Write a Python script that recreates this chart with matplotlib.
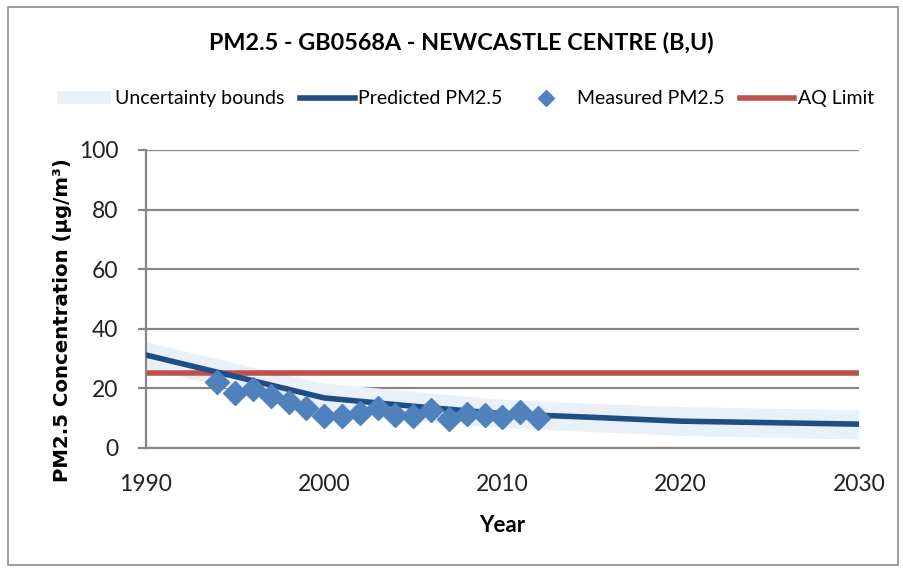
import matplotlib
matplotlib.use('Agg')
from matplotlib import pyplot as plt
from matplotlib.lines import Line2D
from matplotlib.patches import Patch, Rectangle

# predicted curve and uncertainty band
model_years = [1990, 1995, 2000, 2005, 2010, 2015, 2020, 2030]
predicted = [31.2, 24.0, 16.8, 14.0, 11.5, 10.3, 9.0, 8.0]
upper = [35.7, 28.5, 21.8, 19.0, 16.3, 15.0, 13.9, 12.8]
lower = [26.8, 19.5, 12.0, 9.2, 6.8, 5.5, 4.2, 3.0]

# measured annual means
meas_years = list(range(1994, 2013))
measured = [22.2, 18.3, 19.8, 17.6, 15.3, 13.3, 10.8, 10.8, 11.6, 13.5,
            11.1, 10.8, 12.8, 9.7, 11.4, 11.1, 10.3, 12.0, 10.0]

aq_limit = 25
x_ticks = [1990, 2000, 2010, 2020, 2030]
y_ticks = [0, 20, 40, 60, 80, 100]

FONT = 'Lato'
DARK = '#1F4E85'
LIGHT = '#4F81BD'
RED = '#C0504D'
BAND = '#EAF0F8'
GRID = '#878787'


def draw_chart():
    fig = plt.figure(figsize=(9.04, 5.72), dpi=100)
    fig.patches.append(Rectangle((0.009, 0.012), 0.984, 0.975, transform=fig.transFigure,
                                 fill=False, edgecolor='#8c8c8c', linewidth=1.2))
    ax = fig.add_axes([0.1615, 0.2168, 0.7885, 0.521])

    ax.fill_between(model_years, lower, upper, color=BAND, linewidth=0, zorder=1)
    ax.axhline(aq_limit, color=RED, linewidth=4, zorder=2)
    ax.plot(model_years, predicted, color=DARK, linewidth=4, solid_capstyle='round', zorder=3)
    ax.plot(meas_years, measured, linestyle='none', marker='D', markersize=12,
            color=LIGHT, markeredgecolor=LIGHT, zorder=4)

    ax.set_xlim(1990, 2030)
    ax.set_ylim(0, 100)
    ax.set_xticks(x_ticks)
    ax.set_yticks(y_ticks)
    ax.yaxis.grid(True, color=GRID, linewidth=1.6)
    ax.set_axisbelow(True)
    for side in ['top', 'right']:
        ax.spines[side].set_visible(False)
    ax.spines['left'].set_color(GRID)
    ax.spines['left'].set_linewidth(1.6)
    ax.spines['bottom'].set_color(GRID)
    ax.spines['bottom'].set_linewidth(1.6)
    ax.tick_params(axis='x', length=0, pad=19, labelsize=16.5, labelcolor='#222222')
    ax.tick_params(axis='y', length=6, width=1.6, color=GRID, pad=14,
                   labelsize=16.5, labelcolor='#222222')
    for lab in ax.get_xticklabels() + ax.get_yticklabels():
        lab.set_fontfamily(FONT)

    ax.set_xlabel('Year', fontsize=16, fontweight='bold', family=FONT, labelpad=14)
    ax.set_ylabel('PM2.5 Concentration (µg/m³)', fontsize=14.2, fontweight='bold',
                  family='DejaVu Sans')
    ax.yaxis.set_label_coords(-0.104, 0.43)
    fig.text(0.510, 0.925, 'PM2.5 - GB0568A - NEWCASTLE CENTRE (B,U)', ha='center',
             va='center', fontsize=16.8, fontweight='bold', family=FONT)

    handles = [Patch(facecolor=BAND, edgecolor='none'),
               Line2D([], [], color=DARK, linewidth=4),
               Line2D([], [], linestyle='none', marker='D', markersize=8, color=LIGHT),
               Line2D([], [], color=RED, linewidth=4)]
    labels = ['Uncertainty bounds', 'Predicted PM2.5', 'Measured PM2.5', 'AQ Limit']
    fig.legend(handles, labels, loc='center', bbox_to_anchor=(0.515, 0.827), ncol=4,
               frameon=False, prop={'family': FONT, 'size': 14}, handlelength=2.8,
               handletextpad=0.2, columnspacing=0.8)

    plt.savefig('out.png', dpi=100)


def main():
    draw_chart()


if __name__ == "__main__":
    main()
